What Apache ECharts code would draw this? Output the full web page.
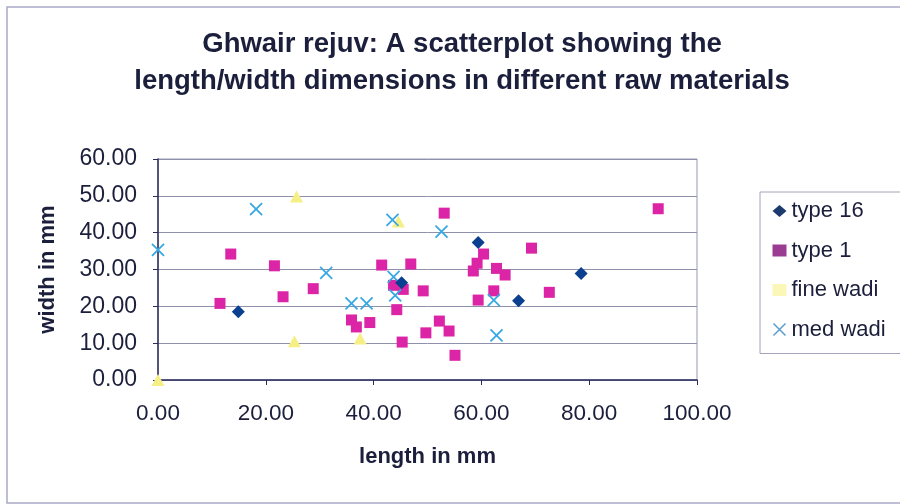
<!DOCTYPE html>
<html>
<head>
<meta charset="utf-8">
<script src="https://cdn.jsdelivr.net/npm/echarts@6/dist/echarts.min.js"></script>
<style>
html,body{margin:0;padding:0;background:#fff;}
#c{width:900px;height:504px;}
</style>
</head>
<body>
<div id="c"></div>
<script>
// ---- data ----
const seriesNames = ['type 16', 'type 1', 'fine wadi', 'med wadi'];
const type16X = [14.9, 45.2, 59.4, 66.9, 78.5];
const type16Y = [18.5, 26.4, 37.3, 21.5, 28.9];
const type1X = [11.5, 13.5, 21.6, 23.2, 28.8, 35.9, 36.8, 39.3, 41.5, 46.9, 43.7, 45.5, 44.3, 49.2, 45.3, 49.7, 52.2, 54.0, 55.1, 53.1, 60.4, 59.2, 58.5, 62.8, 64.4, 62.3, 59.4, 69.3, 72.6, 92.8];
const type1Y = [20.8, 34.2, 31.0, 22.6, 24.8, 16.3, 14.4, 15.6, 31.2, 31.5, 25.7, 24.6, 19.1, 24.2, 10.3, 12.8, 16.0, 13.3, 6.7, 45.3, 34.2, 31.7, 29.6, 30.3, 28.5, 24.2, 21.7, 35.8, 23.8, 46.5];
const fineWadiX = [0, 25.7, 25.3, 37.5, 44.6];
const fineWadiY = [0, 49.8, 10.5, 11.3, 43.0];
const medWadiX = [0, 18.2, 31.2, 35.9, 38.7, 43.5, 52.6, 43.7, 44.0, 62.3, 62.8];
const medWadiY = [35.3, 46.4, 29.1, 20.8, 20.8, 43.5, 40.3, 28.0, 23.0, 21.7, 12.1];
const xTicks = [0, 20, 40, 60, 80, 100];
const yTicks = [0, 10, 20, 30, 40, 50, 60];

function pairs(xs, ys){ return xs.map((x,i)=>[x, ys[i]]); }

const FONT = "'Liberation Sans', Arial, sans-serif";
const TXT = '#1b1f3b';
const XPATH = 'path://M0,0L10,10M10,0L0,10';

const chart = echarts.init(document.getElementById('c'), null, {renderer:'canvas'});
chart.setOption({
  backgroundColor: '#ffffff',
  animation: false,
  textStyle: {fontFamily: FONT},
  graphic: [{
    type: 'rect', shape: {x: 7, y: 7, width: 1000, height: 496},
    style: {fill: 'none', stroke: '#a9a9c6', lineWidth: 1.5}, z: -1
  }],
  title: {
    text: 'Ghwair rejuv: A scatterplot showing the\nlength/width dimensions in different raw materials',
    left: 462, top: 26, padding: 0, textAlign: 'center',
    textStyle: {fontFamily: FONT, fontSize: 27.5, fontWeight: 'bold', color: TXT, lineHeight: 37}
  },
  grid: {left: 158, right: 203, top: 159, bottom: 124, show: true, borderColor: '#9a9ab4', borderWidth: 1},
  xAxis: {
    type: 'value', min: xTicks[0], max: xTicks[xTicks.length-1], interval: 20,
    name: 'length in mm', nameLocation: 'middle', nameGap: 66,
    nameTextStyle: {fontFamily: FONT, fontSize: 22, fontWeight: 'bold', color: TXT},
    axisLine: {show: true, lineStyle: {color: '#2a2d5c', width: 1.5}},
    axisTick: {show: true, length: 5, lineStyle: {color: '#2a2d5c'}},
    axisLabel: {margin: 22, fontSize: 22.5, color: TXT, fontFamily: FONT, formatter: v => v.toFixed(2)},
    splitLine: {show: false}
  },
  yAxis: {
    type: 'value', min: yTicks[0], max: yTicks[yTicks.length-1], interval: 10,
    name: 'width in mm', nameLocation: 'middle', nameGap: 99,
    nameTextStyle: {fontFamily: FONT, fontSize: 22, fontWeight: 'bold', color: TXT},
    axisLine: {show: true, lineStyle: {color: '#2a2d5c', width: 1.5}},
    axisTick: {show: true, length: 5, inside: false, lineStyle: {color: '#2a2d5c'}},
    axisLabel: {margin: 21, fontSize: 23, color: TXT, fontFamily: FONT, formatter: v => v.toFixed(2)},
    splitLine: {show: true, lineStyle: {color: '#8e90ac', width: 1}}
  },
  legend: {
    orient: 'vertical', left: 760, top: 192,
    padding: [7, 60, 12, 11],
    itemWidth: 14, itemHeight: 12, itemGap: 15.5,
    borderColor: '#a4a4bc', borderWidth: 1,
    textStyle: {fontFamily: FONT, fontSize: 22, color: TXT, lineHeight: 24},
    data: [
      {name: seriesNames[0], icon: 'diamond', itemStyle: {color: '#1d3a6e'}},
      {name: seriesNames[1], icon: 'rect', itemStyle: {color: '#9b3c93'}},
      {name: seriesNames[2], icon: 'rect', itemStyle: {color: '#fbf7b8'}},
      {name: seriesNames[3], icon: XPATH, itemStyle: {color: 'none', borderColor: '#5a9ed0', borderWidth: 1.5}}
    ]
  },
  series: [
    {
      name: seriesNames[1], type: 'scatter', symbol: 'rect', symbolSize: 11,
      itemStyle: {color: '#dc25a6', opacity: 1},
      data: pairs(type1X, type1Y), z: 3
    },
    {
      name: seriesNames[2], type: 'scatter', symbol: 'triangle', symbolSize: [13, 12],
      itemStyle: {color: '#f6ef86', opacity: 1},
      data: pairs(fineWadiX, fineWadiY), z: 2
    },
    {
      name: seriesNames[3], type: 'scatter', symbol: XPATH, symbolSize: 12,
      itemStyle: {color: 'none', borderColor: '#38a8e2', borderWidth: 1.8, opacity: 1},
      data: pairs(medWadiX, medWadiY), z: 4
    },
    {
      name: seriesNames[0], type: 'scatter', symbol: 'diamond', symbolSize: 13,
      itemStyle: {color: '#0b3f8f', opacity: 1},
      data: pairs(type16X, type16Y), z: 5
    }
  ]
});
</script>
</body>
</html>
